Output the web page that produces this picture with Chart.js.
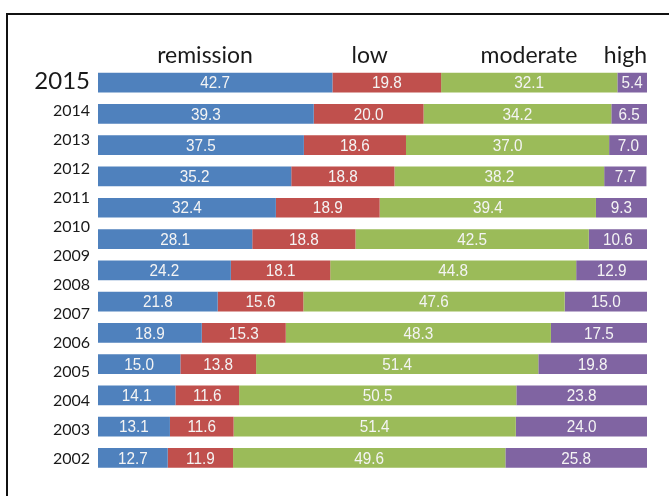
<!DOCTYPE html>
<html>
<head>
<meta charset="utf-8">
<script src="https://cdn.jsdelivr.net/npm/chart.js@4"></script>
<style>
  html, body { margin: 0; padding: 0; background: #fff; overflow: hidden; }
  #wrap { position: relative; width: 669px; height: 496px; overflow: hidden; }
  #frame { position: absolute; left: 6px; top: 13px; width: 800px; height: 800px;
           border-left: 2px solid #111; border-top: 2px solid #111; pointer-events: none; }
  canvas { position: absolute; left: 0; top: 0; }
</style>
</head>
<body>
<div id="wrap">
  <canvas id="c" width="669" height="496"></canvas>
  <div id="frame"></div>
</div>
<script>
// Year tick labels shown on the left (14 labels)
const yearLabels = ['2015','2014','2013','2012','2011','2010','2009','2008','2007','2006','2005','2004','2003','2002'];
// Bar rows (13 bars drawn in the reference)
const barRows = ['r1','r2','r3','r4','r5','r6','r7','r8','r9','r10','r11','r12','r13'];
// Series names (header labels)
const seriesNames = ['remission','low','moderate','high'];
// Series values (%)
const remission = [42.7, 39.3, 37.5, 35.2, 32.4, 28.1, 24.2, 21.8, 18.9, 15.0, 14.1, 13.1, 12.7];
const low       = [19.8, 20.0, 18.6, 18.8, 18.9, 18.8, 18.1, 15.6, 15.3, 13.8, 11.6, 11.6, 11.9];
const moderate  = [32.1, 34.2, 37.0, 38.2, 39.4, 42.5, 44.8, 47.6, 48.3, 51.4, 50.5, 51.4, 49.6];
const high      = [5.4, 6.5, 7.0, 7.7, 9.3, 10.6, 12.9, 15.0, 17.5, 19.8, 23.8, 24.0, 25.8];

const colors = ['#4F81BD', '#C0504D', '#9BBB59', '#8064A2'];
const seriesData = [remission, low, moderate, high];

const valueLabels = {
  id: 'valueLabels',
  afterDatasetsDraw(chart) {
    const ctx = chart.ctx;
    const sx = 0.9;
    ctx.save();
    ctx.fillStyle = '#f4f4f4';
    ctx.font = '17px "Liberation Sans", Arial, sans-serif';
    ctx.textAlign = 'center';
    ctx.textBaseline = 'middle';
    chart.data.datasets.forEach((ds, di) => {
      const meta = chart.getDatasetMeta(di);
      meta.data.forEach((el, i) => {
        const cx = (el.x + el.base) / 2;
        ctx.save();
        ctx.translate(cx, el.y + 1);
        ctx.scale(sx, 1);
        ctx.fillText(ds.data[i].toFixed(1), 0, 0);
        ctx.restore();
      });
    });
    ctx.restore();
  }
};

const headers = {
  id: 'headers',
  afterDraw(chart, args, opts) {
    const ctx = chart.ctx;
    const xs = chart.scales.x;
    ctx.save();
    ctx.fillStyle = '#1a1a1a';
    ctx.font = '23px Lato, "Open Sans", sans-serif';
    ctx.textBaseline = 'alphabetic';
    seriesNames.forEach((name, i) => {
      const a = opts.anchors[i];
      ctx.textAlign = i === seriesNames.length - 1 ? 'right' : 'center';
      ctx.fillText(name, xs.getPixelForValue(a), opts.baseline);
    });
    ctx.restore();
  }
};

new Chart(document.getElementById('c'), {
  type: 'bar',
  data: {
    labels: barRows,
    datasets: seriesNames.map((n, i) => ({
      label: n,
      data: seriesData[i],
      backgroundColor: colors[i],
      borderWidth: 0,
      barPercentage: 0.63,
      categoryPercentage: 1.0,
      yAxisID: 'y',
      xAxisID: 'x'
    }))
  },
  options: {
    indexAxis: 'y',
    responsive: false,
    animation: false,
    devicePixelRatio: 1,
    layout: { padding: { left: 0, right: 22, top: 67, bottom: 5 } },
    plugins: {
      legend: { display: false },
      tooltip: { enabled: false },
      headers: { anchors: [19.5, 49.5, 78.5, 100], baseline: 63 }
    },
    scales: {
      x: { stacked: true, min: 0, max: 100, display: false },
      y: { stacked: true, display: false, offset: true },
      yl: {
        type: 'category',
        labels: yearLabels,
        position: 'left',
        offset: true,
        grid: { display: false, drawTicks: false },
        border: { display: false },
        ticks: {
          padding: 8,
          color: '#1a1a1a',
          autoSkip: false,
          font: (c) => ({ family: 'Lato, "Open Sans", sans-serif', size: c.index === 0 ? 24 : 16 })
        },
        afterFit(scale) { scale.width = 98; }
      }
    }
  },
  plugins: [valueLabels, headers]
});
</script>
</body>
</html>
